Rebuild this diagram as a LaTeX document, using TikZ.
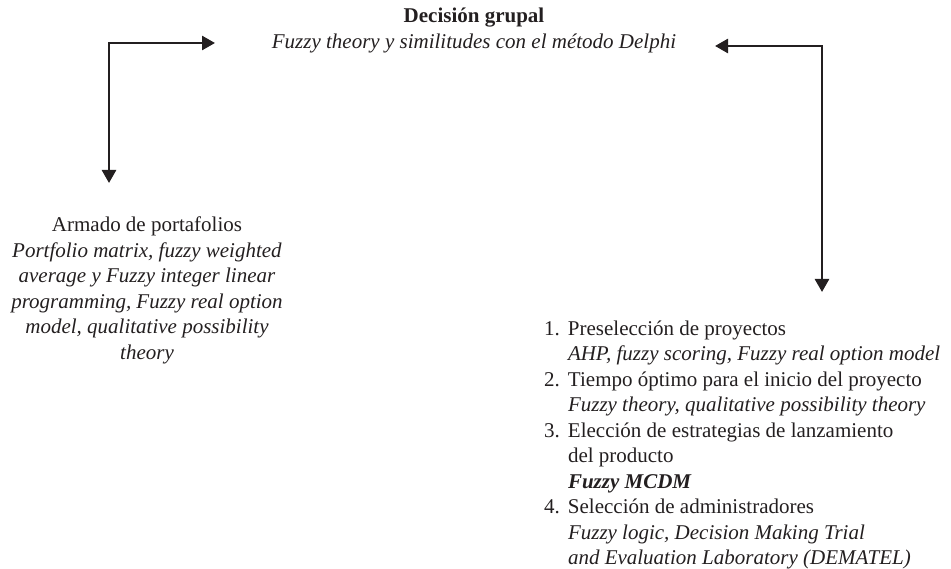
\documentclass[tikz,border=0pt]{standalone}
\usepackage{fontspec}
\setmainfont{Liberation Serif}
\usetikzlibrary{arrows.meta}
\definecolor{ink}{HTML}{231F20}
\begin{document}
\begin{tikzpicture}[x=1pt,y=-1pt,
  txt/.style={inner sep=0pt,outer sep=0pt,text=ink,font=\fontsize{21}{25.5}\selectfont},
  twoarr/.style={draw=ink,line width=2.6pt,line join=miter,{Triangle[length=13pt,width=14pt]}-{Triangle[length=13pt,width=14pt]}}]
\useasboundingbox (0,0) rectangle (951,569);
% text blocks
\node[txt,anchor=north,align=center] (T) at (474,5.15)
  {\strut\textbf{Decisión grupal}\\ \textit{Fuzzy theory y similitudes con el método Delphi}};
\node[txt,anchor=north,align=center] (L) at (147,214.15)
  {\strut Armado de portafolios\\
   \textit{Portfolio matrix, fuzzy weighted}\\
   \textit{average y Fuzzy integer linear}\\
   \textit{programming, Fuzzy real option}\\
   \textit{model, qualitative possibility}\\
   \textit{theory}};
\node[txt,anchor=north west,align=left] (R) at (544,317.15)
  {\strut\makebox[24pt][l]{1.}Preselección de proyectos\\
   \hspace*{24pt}\textit{AHP, fuzzy scoring, Fuzzy real option model}\\
   \makebox[24pt][l]{2.}Tiempo óptimo para el inicio del proyecto\\
   \hspace*{24pt}\textit{Fuzzy theory, qualitative possibility theory}\\
   \makebox[24pt][l]{3.}Elección de estrategias de lanzamiento\\
   \hspace*{24pt}del producto\\
   \hspace*{24pt}\textbf{\textit{Fuzzy MCDM}}\\
   \makebox[24pt][l]{4.}Selección de administradores\\
   \hspace*{24pt}\textit{Fuzzy logic, Decision Making Trial}\\
   \hspace*{24pt}\textit{and Evaluation Laboratory (DEMATEL)}};
% connector points
\coordinate (cL) at (109,43);
\coordinate (tT1) at (215,43);
\coordinate (tL) at (109,183);
\coordinate (cR) at (822,46);
\coordinate (tT2) at (715,46);
\coordinate (tR) at (822,292);
% connectors
\draw[twoarr] (tL) -- (cL) -- (tT1);
\draw[twoarr] (tT2) -- (cR) -- (tR);
\end{tikzpicture}
\end{document}
